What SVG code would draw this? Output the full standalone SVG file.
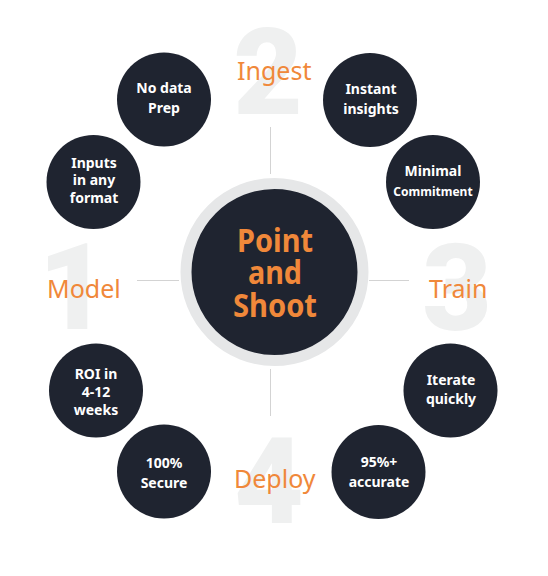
<svg xmlns="http://www.w3.org/2000/svg" width="548" height="576" viewBox="0 0 548 576">
<style>
.digit{font-family:Roboto,"Liberation Sans",sans-serif;font-weight:900;font-size:120px;fill:#eff0f0}
.label{font-family:"Noto Sans","Open Sans",sans-serif;font-size:25px;fill:#f0883a}
.node{fill:#1f2430}
.nt{font-family:"Noto Sans","Open Sans",sans-serif;font-weight:bold;font-size:14px;fill:#ffffff;text-anchor:middle}
.ct{font-family:"Noto Sans","Open Sans",sans-serif;font-weight:bold;font-size:32px;fill:#f0883a;text-anchor:middle}
.conn{stroke:#d3d3d3;stroke-width:1;fill:none}
</style>
<rect width="548" height="576" fill="#ffffff"/>
<g id="digits">
<text class="digit" x="268" y="114" text-anchor="middle">2</text>
<text class="digit" x="73" y="329" text-anchor="middle">1</text>
<text class="digit" x="457" y="330" text-anchor="middle">3</text>
<text class="digit" x="269" y="523" text-anchor="middle">4</text>
</g>
<g id="connectors">
<line class="conn" x1="270.5" y1="127" x2="270.5" y2="174"/>
<line class="conn" x1="270.5" y1="369" x2="270.5" y2="416"/>
<line class="conn" x1="137" y1="280.5" x2="179" y2="280.5"/>
<line class="conn" x1="369" y1="280.5" x2="409" y2="280.5"/>
</g>
<g id="labels">
<text class="label" x="237" y="80">Ingest</text>
<text class="label" x="47" y="298">Model</text>
<text class="label" x="429" y="298">Train</text>
<text class="label" x="234" y="488">Deploy</text>
</g>
<g id="center">
<circle cx="274.5" cy="272" r="88.5" fill="#1f2430" stroke="#e6e7e8" stroke-width="11"/>
<text class="ct" x="275" y="252" textLength="76" lengthAdjust="spacingAndGlyphs">Point</text>
<text class="ct" x="275" y="284" textLength="54" lengthAdjust="spacingAndGlyphs">and</text>
<text class="ct" x="275" y="317" textLength="84" lengthAdjust="spacingAndGlyphs">Shoot</text>
</g>
<g id="n-nodata">
<circle class="node" cx="164" cy="99.5" r="47"/>
<text class="nt" x="164" y="93">No data</text>
<text class="nt" x="164" y="113">Prep</text>
</g>
<g id="n-instant">
<circle class="node" cx="370" cy="100" r="47"/>
<text class="nt" x="371" y="94">Instant</text>
<text class="nt" x="371" y="114">insights</text>
</g>
<g id="n-minimal">
<circle class="node" cx="433" cy="182" r="47"/>
<text class="nt" x="433" y="176">Minimal</text>
<text class="nt" x="433" y="196" style="font-size:12px">Commitment</text>
</g>
<g id="n-inputs">
<circle class="node" cx="93.5" cy="182" r="47"/>
<text class="nt" x="94" y="168">Inputs</text>
<text class="nt" x="94" y="185">in any</text>
<text class="nt" x="94" y="203">format</text>
</g>
<g id="n-roi">
<circle class="node" cx="96" cy="390.5" r="47"/>
<text class="nt" x="96" y="379">ROI in</text>
<text class="nt" x="96" y="397">4-12</text>
<text class="nt" x="96" y="415">weeks</text>
</g>
<g id="n-iterate">
<circle class="node" cx="450.5" cy="390.5" r="47"/>
<text class="nt" x="451" y="385">Iterate</text>
<text class="nt" x="451" y="404">quickly</text>
</g>
<g id="n-secure">
<circle class="node" cx="164" cy="471.5" r="47"/>
<text class="nt" x="164" y="468">100%</text>
<text class="nt" x="164" y="488">Secure</text>
</g>
<g id="n-accurate">
<circle class="node" cx="378.5" cy="472" r="47"/>
<text class="nt" x="379" y="467">95%+</text>
<text class="nt" x="379" y="487">accurate</text>
</g>
</svg>
